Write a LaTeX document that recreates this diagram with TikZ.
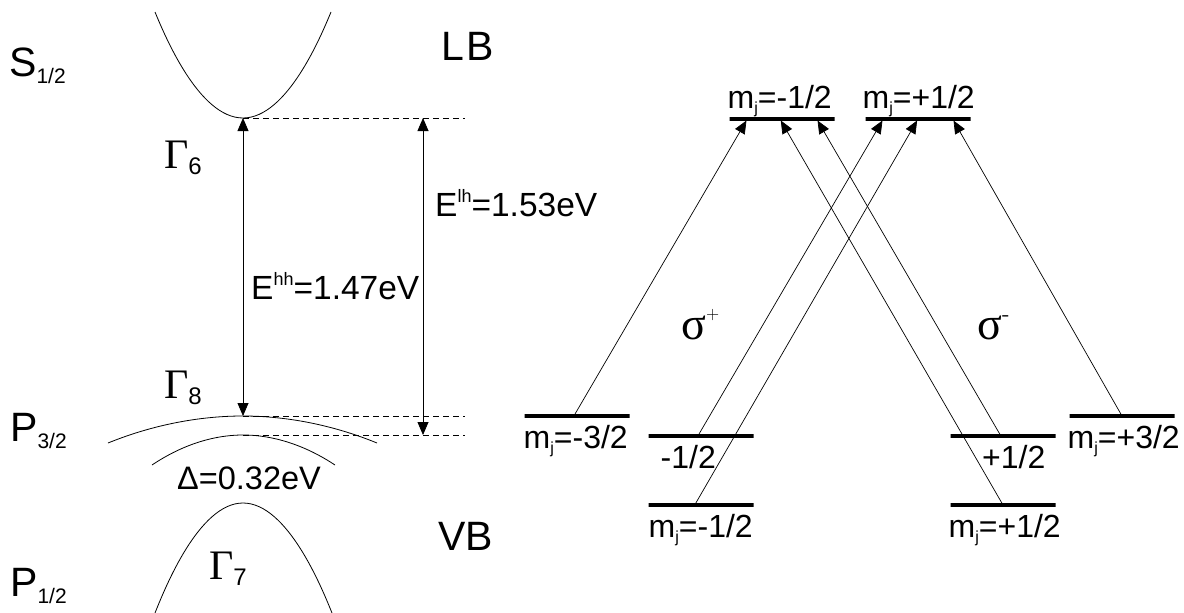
\documentclass[tikz,border=0pt]{standalone}
\usepackage{fontspec}
\setmainfont{Liberation Sans}
\newfontfamily\grk{Liberation Serif}
\usetikzlibrary{arrows.meta,positioning,calc}
\newcommand\lowidx[2]{\raisebox{#1}{\fontsize{21}{22}\selectfont #2}}
\newcommand\hiidx[1]{\raisebox{14pt}{\fontsize{18}{18}\selectfont #1}}
\newcommand\mj{m\raisebox{-5pt}{\fontsize{16}{16}\selectfont j}}
\tikzset{
  big/.style={font=\fontsize{41}{44}\selectfont, inner sep=0pt, anchor=base west},
  elbl/.style={font=\fontsize{33.5}{36}\selectfont, inner sep=0pt, anchor=base west},
  grklbl/.style={font=\fontsize{42}{44}\selectfont\grk, inner sep=0pt, anchor=base west},
  lvltxt/.style={font=\fontsize{32}{34}\selectfont, inner sep=0pt, anchor=base west},
  level/.style={draw, line width=3.5pt, minimum width=105pt, minimum height=0pt,
    inner sep=0pt, outer sep=0pt},
  band/.style={line width=0.8pt},
  guide/.style={line width=0.7pt, dash pattern=on 6pt off 4pt},
  gap/.style={{Triangle[length=13pt,width=11pt]}-{Triangle[length=13pt,width=11pt]}, line width=0.8pt},
  trans/.style={-{Triangle[length=13pt,width=11pt]}, line width=0.7pt, shorten >=1.75pt},
}
\begin{document}
\begin{tikzpicture}[x=1pt, y=-1pt]
  \useasboundingbox (0,0) rectangle (1184,613);
  % band extrema
  \coordinate (cbmin) at (243,118);
  \coordinate (hhmax) at (243,416);
  \coordinate (lhmax) at (243,435);
  \coordinate (somax) at (243,503);
  \coordinate (lhtop) at (423,118);
  \coordinate (lhbot) at (423,435);
  \coordinate (cbend) at (465,118);
  \coordinate (hhend) at (465,416);
  \coordinate (lhend) at (465,435);
  % bands
  \draw[band] (155,12) parabola bend (cbmin) (331,12);
  \draw[band] (108,443) parabola bend (hhmax) (377,443);
  \draw[band] (152,465) parabola bend (lhmax) (335,465);
  \draw[band] (155,613) parabola bend (somax) (332,613);
  \draw[guide] (cbmin) -- (cbend);
  \draw[guide] (hhmax) -- (hhend);
  \draw[guide] (lhmax) -- (lhend);
  \draw[gap] (hhmax) -- (cbmin);
  \draw[gap] (lhbot) -- (lhtop);
  % left labels
  \node[big] (s12) at (9,76) {S\lowidx{-7pt}{1/2}};
  \node[big] (p32) at (10,441) {P\lowidx{-7pt}{3/2}};
  \node[big] (p12) at (10,596) {P\lowidx{-7pt}{1/2}};
  \node[big] (lb) at (441,60) {L\hspace{3pt}B};
  \node[big] (vb) at (438,550) {VB};
  \node[grklbl] (g6) at (164,168) {Γ\lowidx{-6pt}{\fontsize{24}{24}\selectfont\rmfamily 6}};
  \node[grklbl] (g8) at (164,398) {Γ\lowidx{-6pt}{\fontsize{24}{24}\selectfont\rmfamily 8}};
  \node[grklbl] (g7) at (209,579) {Γ\lowidx{-6pt}{\fontsize{24}{24}\selectfont\rmfamily 7}};
  \node[elbl] (ehh) at (251,299) {E\hiidx{hh}=1.47eV};
  \node[elbl] (elh) at (435,216) {E\hiidx{lh}=1.53eV};
  \node[elbl, font=\fontsize{32.5}{35}\selectfont] (delta) at (177,489) {Δ=0.32eV};
  % levels
  \node[level] (tm) at (782,119) {};
  \node[level] (tp) at (918,119) {};
  \node[level] (lm32) at (577,416) {};
  \node[level] (lm12) at (701,436) {};
  \node[level, below=69pt of lm12] (lm12b) {};
  \node[level] (lp12) at (1003,436) {};
  \node[level, below=69pt of lp12] (lp12b) {};
  \node[level] (lp32) at (1122,416) {};
  \node[lvltxt] (t-tm) at ([xshift=-2pt,yshift=11pt]tm.west) {\mj=-1/2};
  \node[lvltxt] (t-tp) at ([xshift=-3pt,yshift=11pt]tp.west) {\mj=+1/2};
  \node[lvltxt] (t-lm32) at ([xshift=-1pt,yshift=-32pt]lm32.west) {\mj=-3/2};
  \node[lvltxt] (t-lm12) at ([xshift=12pt,yshift=-32pt]lm12.west) {-1/2};
  \node[lvltxt] (t-lm12b) at ([yshift=-32pt]lm12b.west) {\mj=-1/2};
  \node[lvltxt, anchor=base east] (t-lp12) at ([xshift=-10pt,yshift=-32pt]lp12.east) {+1/2};
  \node[lvltxt] (t-lp12b) at ([xshift=-2pt,yshift=-32pt]lp12b.west) {\mj=+1/2};
  \node[lvltxt] (t-lp32) at ([xshift=-2pt,yshift=-32pt]lp32.west) {\mj=+3/2};
  % transitions
  \draw[trans] ($(lm32.west)!0.47!(lm32.east)$) -- ($(tm.west)!0.17!(tm.east)$);
  \draw[trans] ($(lm12.west)!0.47!(lm12.east)$) -- ($(tp.west)!0.17!(tp.east)$);
  \draw[trans] ($(lm12b.west)!0.44!(lm12b.east)$) -- ($(tp.west)!0.5!(tp.east)$);
  \draw[trans] ($(lp32.west)!0.5!(lp32.east)$) -- ($(tp.west)!0.83!(tp.east)$);
  \draw[trans] ($(lp12.west)!0.48!(lp12.east)$) -- ($(tm.west)!0.83!(tm.east)$);
  \draw[trans] ($(lp12b.west)!0.5!(lp12b.east)$) -- ($(tm.west)!0.48!(tm.east)$);
  \node[grklbl, font=\fontsize{46}{48}\selectfont\grk] (sp) at (681,339) {σ\raisebox{20pt}{\fontsize{18}{18}\selectfont\sffamily +}};
  \node[grklbl, font=\fontsize{46}{48}\selectfont\grk] (sm) at (977,339) {σ\raisebox{18pt}{\fontsize{24}{24}\selectfont\sffamily -}};
\end{tikzpicture}
\end{document}
